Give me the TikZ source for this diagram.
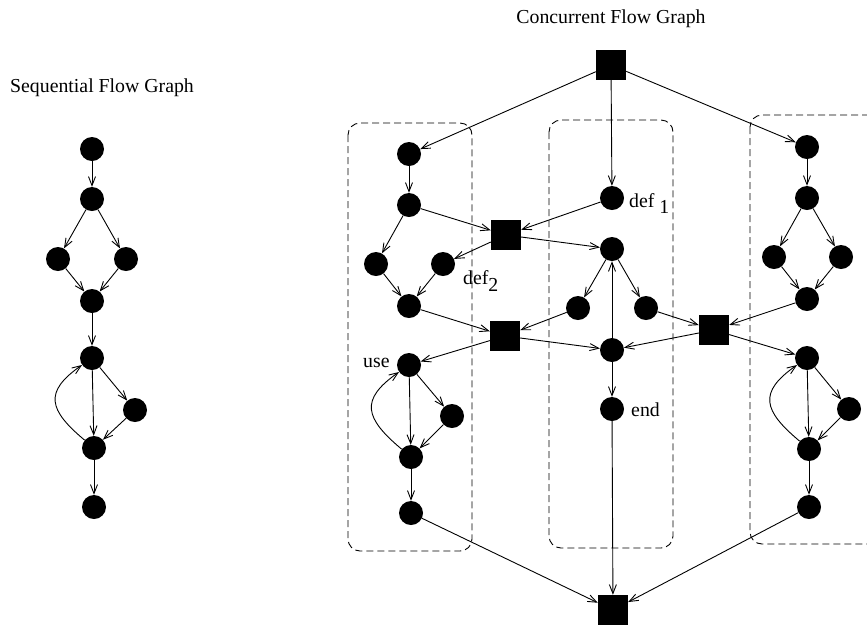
\documentclass[tikz,border=0pt]{standalone}
\usepackage{fontspec}
\setmainfont{Liberation Serif}
\usetikzlibrary{arrows.meta}
\begin{document}
\begin{tikzpicture}[x=1pt,y=-1pt,
  dot/.style={circle,fill=black,inner sep=0pt,minimum size=24pt},
  blk/.style={rectangle,fill=black,inner sep=0pt,minimum size=30pt},
  arr/.style={-{Straight Barb[length=9pt,width=7pt]},line width=0.9pt},
  thread/.style={dash pattern=on 7pt off 4pt,rounded corners=12pt,line width=0.9pt},
  lbl/.style={font=\fontsize{19.8}{23}\selectfont,inner sep=0pt,anchor=base west},
  title/.style={font=\fontsize{19.8}{23}\selectfont,inner sep=0pt,anchor=base}]
\useasboundingbox (0,0) rectangle (867,625);
\clip (0,0) rectangle (867,625);

% titles
\node[title] (tseq) at (102,92) {Sequential Flow Graph};
\node[title] (tcon) at (611,23) {Concurrent Flow Graph};

% thread boundaries
\draw[thread] (348,123) rectangle (472,551);
\draw[thread] (549,120) rectangle (673,548);
\draw[thread] (750,115) rectangle (895,544);

% ---- sequential flow graph ----
\node[dot] (s1) at (92,149) {};
\node[dot] (s2) at (92,199) {};
\node[dot] (s3) at (58,259) {};
\node[dot] (s4) at (126,259) {};
\node[dot] (s5) at (92,301) {};
\node[dot] (s6) at (92,358) {};
\node[dot] (s7) at (135,410) {};
\node[dot] (s8) at (94,448) {};
\node[dot] (s9) at (94,507) {};
\draw[arr] (s1) -- (s2);
\draw[arr] (s2) -- (s3);
\draw[arr] (s2) -- (s4);
\draw[arr] (s3) -- (s5);
\draw[arr] (s4) -- (s5);
\draw[arr] (s5) -- (s6);
\draw[arr] (s6) -- (s7);
\draw[arr] (s6) -- (s8);
\draw[arr] (s7) -- (s8);
\draw[arr] (s8) to[out=140,in=215,looseness=1.6] (s6);
\draw[arr] (s8) -- (s9);

% ---- concurrent flow graph: synchronisation blocks ----
\node[blk] (b0) at (611,65) {};
\node[blk] (b1) at (506,235) {};
\node[blk] (b2) at (505,336) {};
\node[blk] (b3) at (714,330) {};
\node[blk] (b4) at (613,610) {};

% left thread
\node[dot] (l1) at (409,154) {};
\node[dot] (l2) at (409,205) {};
\node[dot] (l3) at (376,264) {};
\node[dot] (l4) at (443,264) {};
\node[dot] (l5) at (409,306) {};
\node[dot] (l6) at (409,365) {};
\node[dot] (l7) at (452,416) {};
\node[dot] (l8) at (411,457) {};
\node[dot] (l9) at (411,513) {};

% middle thread
\node[dot] (m1) at (612,198) {};
\node[dot] (m2) at (612,249) {};
\node[dot] (m3) at (578,308) {};
\node[dot] (m4) at (646,308) {};
\node[dot] (m5) at (612,350) {};
\node[dot] (m6) at (612,409) {};

% right thread
\node[dot] (r1) at (807,147) {};
\node[dot] (r2) at (807,198) {};
\node[dot] (r3) at (774,257) {};
\node[dot] (r4) at (841,257) {};
\node[dot] (r5) at (807,299) {};
\node[dot] (r6) at (807,358) {};
\node[dot] (r7) at (849,409) {};
\node[dot] (r8) at (809,449) {};
\node[dot] (r9) at (809,507) {};

% labels
\node[lbl] (ldef1) at (629,207) {def\ \raisebox{-6pt}{1}};
\node[lbl] (ldef2) at (463,284) {def\raisebox{-7pt}{2}};
\node[lbl] (luse) at (363,367) {use};
\node[lbl] (lend) at (631,416) {end};

% fork
\draw[arr] (b0) -- (l1);
\draw[arr] (b0) -- (m1);
\draw[arr] (b0) -- (r1);

% left thread edges
\draw[arr] (l1) -- (l2);
\draw[arr] (l2) -- (b1);
\draw[arr] (l2) -- (l3);
\draw[arr] (b1) -- (l4);
\draw[arr] (l3) -- (l5);
\draw[arr] (l4) -- (l5);
\draw[arr] (l5) -- (b2);
\draw[arr] (b2) -- (l6);
\draw[arr] (l6) -- (l7);
\draw[arr] (l6) -- (l8);
\draw[arr] (l7) -- (l8);
\draw[arr] (l8) to[out=140,in=215,looseness=1.6] (l6);
\draw[arr] (l8) -- (l9);
\draw[arr] (l9) -- (b4);

% middle thread edges
\draw[arr] (m1) -- (b1);
\draw[arr] (b1) -- (m2);
\draw[arr] (m2) -- (m3);
\draw[arr] (m2) -- (m4);
\draw[arr] (m3) -- (b2);
\draw[arr] (m4) -- (b3);
\draw[arr] (b2) -- (m5);
\draw[arr] (b3) -- (m5);
\draw[arr] (m5) -- (m2);
\draw[arr] (m5) -- (m6);
\draw[arr] (m6) -- (b4);

% right thread edges
\draw[arr] (r1) -- (r2);
\draw[arr] (r2) -- (r3);
\draw[arr] (r2) -- (r4);
\draw[arr] (r3) -- (r5);
\draw[arr] (r4) -- (r5);
\draw[arr] (r5) -- (b3);
\draw[arr] (b3) -- (r6);
\draw[arr] (r6) -- (r7);
\draw[arr] (r6) -- (r8);
\draw[arr] (r7) -- (r8);
\draw[arr] (r8) to[out=140,in=215,looseness=1.6] (r6);
\draw[arr] (r8) -- (r9);
\draw[arr] (r9) -- (b4);
\end{tikzpicture}
\end{document}
